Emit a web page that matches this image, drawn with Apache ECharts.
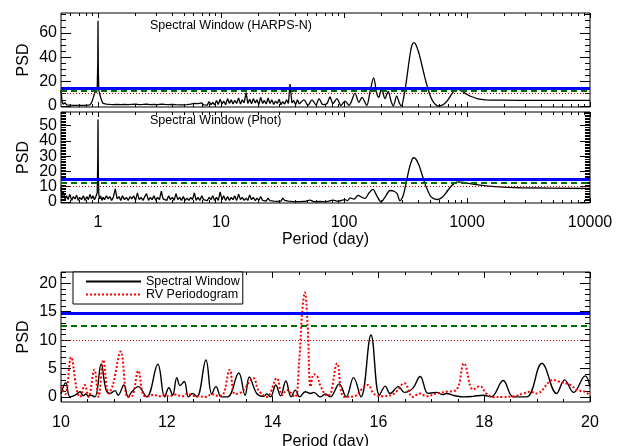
<!DOCTYPE html>
<html><head><meta charset="utf-8">
<script src="https://cdn.jsdelivr.net/npm/echarts@6/dist/echarts.min.js"></script>
<style>html,body{margin:0;padding:0;background:#fff}#c{width:627px;height:446px}</style>
</head><body><div id="c"></div>
<script>
// ---------- DATA ----------
// shared period grid (days) for the short-period part of the two window functions
const noiseP = [0.50,0.51,0.52,0.54,0.555,0.57,0.59,0.61,0.63,0.65,
0.67,0.69,0.71,0.735,0.76,0.785,0.81,0.835,0.86,0.885,
0.91,0.935,0.955,0.97,0.985,0.995,1.0,1.005,1.015,1.03,
1.05,1.075,1.10,1.13,1.17,1.21,1.25,1.29,1.33,1.38,
1.43,1.48,1.53,1.58,1.64,1.70,1.76,1.82,1.88,1.95,
2.02,2.09,2.16,2.24,2.32,2.40,2.48,2.57,2.66,2.75,
2.85,2.95,3.05,3.16,3.27,3.38,3.50,3.62,3.75,3.88,
4.02,4.16,4.30,4.45,4.61,4.77,4.94,5.11,5.29,5.48,
5.67,5.87,6.07,6.28,6.50,6.73,6.97,7.21,7.46,7.72,
8.0,8.28,8.57,8.87,9.18,9.50,9.83,10.2,10.5,10.9,
11.3,11.7,12.1,12.5,12.9,13.4,13.9,14.4,14.9,15.4,
16.0,16.5,17.1,17.7,18.3,19.0,19.6,20.3,21.0,21.8,
22.5,23.3,24.1,25.0,25.9,26.8,27.7,28.7,29.7,30.7,
31.8,32.9,34.1,35.3,36.4,37.7,39.0,40.4,41.8,43.3];
const harpsNoiseV = [13,4,1.5,2.5,0.8,1.8,0.6,1.5,0.5,1.2,
0.4,1.3,0.5,1.1,0.4,1.2,0.5,1.4,0.8,2.5,
6,10,13,11,14,35,70,30,13,10,
7,4,2,0.8,1.5,0.5,1.2,0.4,1.0,0.5,
1.3,0.4,1.1,0.5,1.2,0.3,1.0,0.5,1.3,0.4,
1.5,0.6,1.1,0.3,1.2,0.5,1.4,0.4,1.0,0.5,
1.3,0.3,1.1,0.5,1.5,0.4,1.2,0.5,1.0,0.3,
1.3,0.4,1.0,0.3,0.8,0.2,0.9,0.3,1.0,0.4,
1.5,0.5,2.0,0.6,1.8,0.7,2.5,0.8,2.0,0.6,
3.5,1.0,2.8,0.8,4.5,1.2,5.5,1.5,4.0,1.0,
6.0,2.0,5.0,1.5,4.5,2.0,6.5,1.5,5.0,2.5,
11,2.0,5.5,1.8,6.0,2.5,5.0,1.0,7.0,2.0,
4.5,1.5,6.5,2.0,5.0,1.2,4.0,2.0,5.5,1.0,
3.5,1.5,5.0,2.0,18,2.5,4.5,1.0,5.0,1.5];
const photNoiseV = [10,3,7,2,4,1.5,5,1,3.5,2,
4.5,1,3,1.5,4,1,3.5,1.5,5,2,
4,1.5,3,2,6,27,54,20,5,2,
4,1,3,1.5,4,2,3.5,1,3,8.5,
2,3.5,1,4,1.5,3,1,3.5,2,4,
1,6,1.5,3,1,3.5,5.5,1,3,1.5,
4,1,3,1.5,7,2,3,1,4,1.5,
3,1,5.5,1.5,3,1,3.5,1,2.5,1,
3,1.5,6,1,3,1,4,1.5,2.5,0.8,
3,1.5,4,1,3,1,6.5,1.5,4,1,
3.5,1,3,1.5,4,1,5,1.5,3,1,
2.5,1,4.5,1.5,3,0.8,2.5,1,3.5,1,
2,0.5,2.5,0.8,2,0.5,1.5,0.3,1.5,0.5,
2.5,1,1,0.5,1,0.3,0.8,0.2,0.6,0.2];

// long-period part (smooth)
const harpsLongP = [43.3,47.3,50.9,54.9,59.2,62.6,67.5,72.8,76.9,81.3,87.7,94.4,101.8,110,123,132,140,153,163,174,185,192,202,215,229,241,252,268,283,293,307,319,331,344,357,371,385,407,431,455,482,509,539,570,603,650,700,755,798,845,910,1000,1097,1227,1400,1854,3920,10000];
const harpsLongV = [1.5,5,0.5,5,0.8,6,1,2,7.3,2,6,0.3,4,0.5,10.5,3,7,0.3,12,23,10,7,15,6,12,4,0,8,2,0,8,18,30,42,50,52,50,43,33,23,14,7,2.5,0.3,0,1.5,5,10,13,13.5,12,9.5,7.5,5.8,5.0,4.7,4.6,4.6];
const photLongP = [43.3,47.3,52.9,57,63.8,72,81.3,89.3,102,107,112,120.5,130,140,148,160,172,185,200,215,237,255,270,285,302,319,337,351,367,385,407,431,455,482,509,550,581,627,675,728,784,845,927,1057,1276,1687,2698,10000];
const photLongV = [0.2,0.3,1.2,0.2,0.3,0.2,1.2,0.4,1.5,0.8,2.7,1.8,4.3,3,2.3,6,8.3,4,0,3,7.5,7,5.5,0.8,4,12,21,26,29,28,24,18,12,7,3.5,1.8,1.6,3,6,9.5,12,13.1,12.8,12,11,10,9.3,8.8];

// zoomed panel, 10-20 days
const swP = [10.0,10.09,10.17,10.27,10.36,10.42,10.47,10.52,10.56,10.64,
10.76,10.85,10.93,11.02,11.08,11.19,11.27,11.34,11.46,11.62,
11.83,11.96,12.04,12.11,12.19,12.25,12.33,12.41,12.49,12.57,
12.74,12.85,12.93,13.03,13.15,13.36,13.48,13.56,13.70,13.83,
13.89,13.96,14.06,14.15,14.25,14.35,14.43,14.51,14.62,14.72,
14.78,14.90,15.0,15.09,15.26,15.39,15.53,15.67,15.86,16.02,
16.13,16.22,16.38,16.49,16.65,16.79,16.94,17.09,17.22,17.28,
17.45,17.62,17.79,17.98,18.13,18.36,18.55,18.80,19.09,19.37,
19.52,19.69,19.91,20.0];
const swV = [0.5,2.5,0,0.3,0.9,0.2,0.5,0.1,0.3,0,
5.8,1.3,0.6,1.1,0.3,2.1,0,0.9,1.8,0,
5.75,0,1.6,0.3,3.4,2.0,2.7,0,0.6,0,
6.5,0.5,1.8,0,0,4.2,0.3,3.5,0.6,0.1,
0.5,0,2.1,0.2,2.8,0,1.2,0,0.9,0.6,
0.8,0,0.5,0,2.3,0,3.4,0,10.9,0.3,
1.9,0.6,1.8,0.8,1.5,3.6,0.6,0.8,0.4,0.6,
0.2,0,0.1,0.3,0,2.9,0,0,5.9,0.6,
3.0,0.8,3.7,1.8];
const rvP = [10.0,10.08,10.19,10.30,10.36,10.45,10.52,10.63,10.71,10.80,
10.90,10.98,11.13,11.26,11.34,11.46,11.56,11.65,11.75,11.85,
11.95,12.05,12.15,12.30,12.40,12.49,12.60,12.74,12.85,12.95,
13.05,13.19,13.29,13.42,13.64,13.73,13.89,14.08,14.18,14.27,
14.42,14.50,14.56,14.61,14.66,14.72,14.78,14.85,14.91,15.04,
15.10,15.22,15.35,15.54,15.70,15.80,15.92,16.08,16.30,16.49,
16.65,16.78,16.91,17.09,17.28,17.47,17.62,17.79,17.92,18.04,
18.17,18.36,18.55,18.74,18.87,18.99,19.31,19.41,19.63,19.75,
19.91,20.0];
const rvV = [1.8,0.5,7,1.2,0,2.1,0,4.8,0,6.5,
0.6,2.1,8,0,0.1,4.6,0.3,0.1,0.4,0.1,
0.3,0.1,0.4,0.1,0.6,0.2,0.1,0,0.5,0.2,
0.3,4.8,0.5,0.9,3.3,1.2,0,3.3,0.3,1.2,
0,6,15,18.4,13,1.8,4,3.5,1.8,0.2,
0.6,5.9,0,0.1,1.5,2.1,0.5,0.1,0.6,2.4,
0,0.6,0.1,0.6,0.9,1.2,5.9,1.3,1.9,0.6,
0,0,0.1,0.6,0.9,0.6,3.0,2.7,2.1,1.2,
0.9,0.2];

// threshold levels
const levelBlue = 14.8, levelGreen = 12.6, levelRed = 10.0;

// tick labels
const logMajor = [1, 10, 100, 1000, 10000];
const topYMajor = [0, 20, 40, 60];
const midYMajor = [0, 10, 20, 30, 40, 50];
const midYLabelsA = [0, 20, 40];
const midYLabelsB = [10, 30, 50];
const botYMajor = [0, 5, 10, 15, 20];
const legendNames = ['Spectral Window', 'RV Periodogram'];
const panelTitles = ['Spectral Window (HARPS-N)', 'Spectral Window (Phot)'];

// ---------- BUILD ----------
const FONT = 'Liberation Sans';
const zip = (a, b) => a.map((p, i) => [p, b[i]]);
const logMinor = [];
[0.1, 1, 10, 100, 1000].forEach(d => { for (let k = 2; k <= 9; k++) { const v = +(k * d).toPrecision(3); if (v > 0.5) logMinor.push(v); } });
function minorList(step, lo, hi, majors) { const r = []; for (let v = lo; v <= hi + 1e-9; v += step) { const vv = Math.round(v * 1000) / 1000; if (majors.indexOf(vv) < 0) r.push(vv); } return r; }
const topYMinor = minorList(5, 0, 76, topYMajor);
const midYMinor = minorList(1, 0, 59, midYMajor);
const botYMinor = minorList(1, 0, 22, botYMajor);

const txt = { color: '#000', fontFamily: FONT };
const lblFlags = { showMinLabel: true, showMaxLabel: true, hideOverlap: false };
function xLog(gi, pos, ticks, len, labels, name, margin) {
  return {
    type: 'log', logBase: 10, gridIndex: gi, position: pos, min: 0.5, max: 10000,
    axisLine: { show: false, onZero: false }, splitLine: { show: false },
    axisTick: { show: true, inside: true, length: len, customValues: ticks, lineStyle: { color: '#000', width: 1 } },
    axisLabel: labels ? Object.assign({ show: true, customValues: ticks, margin: margin || 12, fontSize: 16, formatter: v => String(v) }, txt, lblFlags) : { show: false },
    name: name || '', nameLocation: 'middle', nameGap: 29, nameMoveOverlap: false,
    nameTextStyle: Object.assign({ fontSize: 16 }, txt)
  };
}
function yAx(gi, pos, min, max, ticks, len, labelVals, name) {
  return {
    type: 'value', gridIndex: gi, position: pos, min: min, max: max,
    axisLine: { show: false, onZero: false }, splitLine: { show: false },
    axisTick: { show: true, inside: true, length: len, customValues: ticks, lineStyle: { color: '#000', width: 1 } },
    axisLabel: labelVals ? Object.assign({ show: true, customValues: labelVals, margin: 4, fontSize: 16 }, txt, lblFlags) : { show: false },
    name: name || '', nameLocation: 'middle', nameGap: 29, nameMoveOverlap: false,
    nameTextStyle: Object.assign({ fontSize: 16 }, txt)
  };
}
function xLin(gi, pos, labels, name) {
  return {
    type: 'value', gridIndex: gi, position: pos, min: 10, max: 20, interval: 2,
    axisLine: { show: false, onZero: false }, splitLine: { show: false },
    axisTick: { show: true, inside: true, length: 6, lineStyle: { color: '#000' } },
    minorTick: { show: true, splitNumber: 4, length: 3, lineStyle: { color: '#000' } },
    axisLabel: labels ? Object.assign({ show: true, margin: 13, fontSize: 16 }, txt, lblFlags) : { show: false },
    name: name || '', nameLocation: 'middle', nameGap: 32, nameMoveOverlap: false,
    nameTextStyle: Object.assign({ fontSize: 16 }, txt)
  };
}
const yr = [[-0.9, 76.3], [-0.7, 59], [-0.9, 22]];
const xAxis = [
  xLog(0, 'bottom', logMajor, 5, false), xLog(0, 'bottom', logMinor, 3, false),
  xLog(0, 'top', logMajor, 5, false), xLog(0, 'top', logMinor, 3, false),
  xLog(1, 'bottom', logMajor, 5, true, 'Period (day)'), xLog(1, 'bottom', logMinor, 3, false),
  xLog(1, 'top', logMajor, 5, false), xLog(1, 'top', logMinor, 3, false),
  xLin(2, 'bottom', true, 'Period (day)'), xLin(2, 'top', false)
];
const yAxis = [
  yAx(0, 'left', yr[0][0], yr[0][1], topYMajor, 10, topYMajor, 'PSD'), yAx(0, 'left', yr[0][0], yr[0][1], topYMinor, 5, null),
  yAx(0, 'right', yr[0][0], yr[0][1], topYMajor, 10, null), yAx(0, 'right', yr[0][0], yr[0][1], topYMinor, 5, null),
  yAx(1, 'left', yr[1][0], yr[1][1], midYMajor, 10, midYLabelsA, 'PSD'), yAx(1, 'left', yr[1][0], yr[1][1], midYMinor, 5, midYLabelsB),
  yAx(1, 'right', yr[1][0], yr[1][1], midYMajor, 10, null), yAx(1, 'right', yr[1][0], yr[1][1], midYMinor, 5, null),
  yAx(2, 'left', yr[2][0], yr[2][1], botYMajor, 10, botYMajor, 'PSD'), yAx(2, 'left', yr[2][0], yr[2][1], botYMinor, 5, null),
  yAx(2, 'right', yr[2][0], yr[2][1], botYMajor, 10, null), yAx(2, 'right', yr[2][0], yr[2][1], botYMinor, 5, null)
];
const levels = {
  silent: true, symbol: ['none', 'none'], label: { show: false }, animation: false,
  data: [
    { yAxis: levelRed, lineStyle: { color: '#b00000', width: 1, type: [1, 2] } },
    { yAxis: levelGreen, lineStyle: { color: '#007000', width: 2, type: [6, 4] } },
    { yAxis: levelBlue, lineStyle: { color: '#0000ff', width: 3, type: 'solid' } }
  ]
};
const blk = { color: '#000', width: 1.3 };
const series = [
  { type: 'line', name: 'HARPS-N window', xAxisIndex: 0, yAxisIndex: 0, data: zip(noiseP, harpsNoiseV), symbol: 'none', lineStyle: blk, markLine: levels },
  { type: 'line', name: 'HARPS-N window long', xAxisIndex: 0, yAxisIndex: 0, data: zip(harpsLongP, harpsLongV), symbol: 'none', smooth: 0.3, lineStyle: blk },
  { type: 'line', name: 'Phot window', xAxisIndex: 4, yAxisIndex: 4, data: zip(noiseP, photNoiseV), symbol: 'none', lineStyle: blk, markLine: levels },
  { type: 'line', name: 'Phot window long', xAxisIndex: 4, yAxisIndex: 4, data: zip(photLongP, photLongV), symbol: 'none', smooth: 0.3, lineStyle: blk },
  { type: 'line', name: legendNames[0], xAxisIndex: 8, yAxisIndex: 8, data: zip(swP, swV), symbol: 'none', smooth: 0.4, lineStyle: { color: '#000', width: 1.4 }, itemStyle: { color: '#000' }, markLine: levels },
  { type: 'line', name: legendNames[1], xAxisIndex: 8, yAxisIndex: 8, data: zip(rvP, rvV), symbol: 'none', smooth: 0.4, lineStyle: { color: '#ff0000', width: 2, type: [2, 2] }, itemStyle: { color: '#ff0000' } }
];
const gridBase = { left: 61, right: 37, show: true, borderColor: '#000', borderWidth: 1, backgroundColor: 'transparent', containLabel: false, outerBoundsMode: 'none' };
const option = {
  animation: false,
  backgroundColor: '#fff',
  textStyle: { fontFamily: FONT },
  title: [
    { text: panelTitles[0], left: 150, top: 19, padding: 0, textStyle: Object.assign({ fontSize: 12.5, fontWeight: 'normal' }, txt) },
    { text: panelTitles[1], left: 150, top: 114, padding: 0, textStyle: Object.assign({ fontSize: 12.5, fontWeight: 'normal' }, txt) }
  ],
  legend: {
    data: legendNames, orient: 'vertical', left: 73, top: 272, itemWidth: 55, itemHeight: 10, itemGap: 0,
    padding: [3, 3, 3, 12], borderColor: '#000', borderWidth: 1, backgroundColor: '#fff',
    itemStyle: { opacity: 0 },
    textStyle: Object.assign({ fontSize: 12.5, lineHeight: 12 }, txt), selectedMode: false
  },
  grid: [
    Object.assign({ top: 13, height: 94 }, gridBase),
    Object.assign({ top: 112, height: 91 }, gridBase),
    Object.assign({ top: 272, height: 130 }, gridBase)
  ],
  xAxis: xAxis, yAxis: yAxis, series: series
};
echarts.init(document.getElementById('c'), null, { renderer: 'canvas' }).setOption(option);
</script></body></html>
